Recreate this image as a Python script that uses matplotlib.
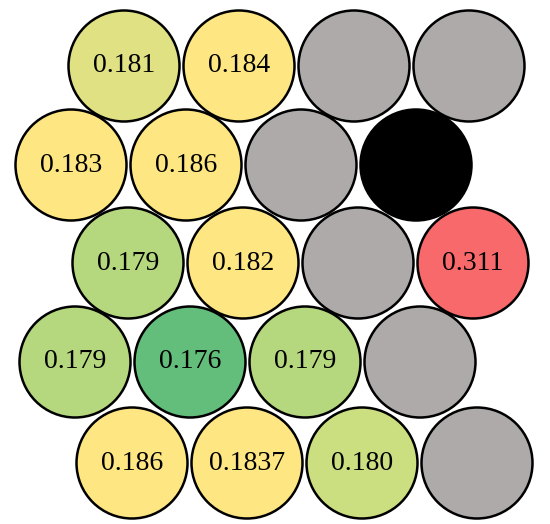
import matplotlib.pyplot as plt
from matplotlib.patches import Circle

# values per row (None = no value shown)
row_values = [
    ["0.181", "0.184", None, None],
    ["0.183", "0.186", None, None],
    ["0.179", "0.182", None, "0.311"],
    ["0.179", "0.176", "0.179", None],
    ["0.186", "0.1837", "0.180", None],
]
row_colors = [
    ["#dfe183", "#fee783", "#aeaaaa", "#aeaaaa"],
    ["#fee783", "#fee783", "#aeaaaa", "#000000"],
    ["#b5d77e", "#fee783", "#aeaaaa", "#f8696b"],
    ["#b5d77e", "#63be7b", "#b5d77e", "#aeaaaa"],
    ["#fee783", "#fee783", "#cbdf80", "#aeaaaa"],
]

# layout (pixels)
row_x0 = [124, 71, 128, 75, 132]
row_y = [66, 165, 263, 362, 463]
dx = 115
radius = 55.5

fig = plt.figure(figsize=(5.5, 5.24), dpi=100)
ax = fig.add_axes([0, 0, 1, 1])
ax.set_xlim(0, 550)
ax.set_ylim(524, 0)
ax.set_aspect('equal')
ax.axis('off')

for r, (vals, cols) in enumerate(zip(row_values, row_colors)):
    for c, (v, col) in enumerate(zip(vals, cols)):
        cx = row_x0[r] + c * dx
        cy = row_y[r]
        ax.add_patch(Circle((cx, cy), radius, facecolor=col, edgecolor='black', linewidth=1.8))
        if v is not None:
            ax.text(cx, cy, v, ha='center', va='center', fontsize=20,
                    family='Liberation Serif', color='black')

fig.savefig('out.png', dpi=100)
